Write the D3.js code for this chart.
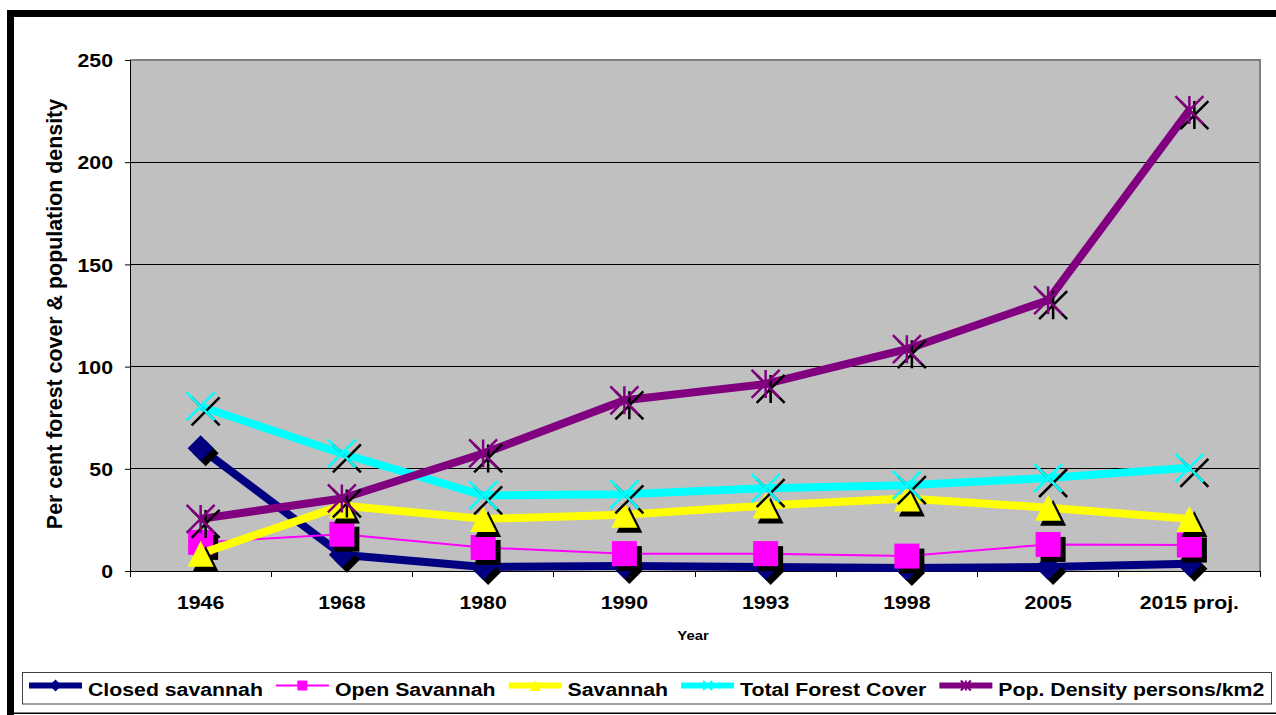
<!DOCTYPE html>
<html><head><meta charset="utf-8">
<script src="https://cdn.jsdelivr.net/npm/d3@7"></script>
<style>
body{margin:0;background:#fff}
svg{display:block}
text{font-family:"Liberation Sans",Arial,Helvetica,sans-serif;font-weight:bold;fill:#000}
</style>
</head><body>
<svg id="c" width="1276" height="715"></svg>
<script>
// ---- data ----
const categories = ["1946","1968","1980","1990","1993","1998","2005","2015 proj."];
const closedSavannah = [60, 8, 2, 2.5, 2, 1.5, 2, 3.5];
const openSavannah   = [14, 18, 11.5, 8.5, 8.5, 7.3, 13, 12.7];
const savannah       = [8.5, 32, 25.5, 27.5, 32, 35.5, 31, 25.5];
const totalForest    = [80.5, 57.5, 37, 37.5, 40.5, 42, 45.5, 50.5];
const popDensity     = [25.5, 35.5, 57.5, 83.5, 91.5, 108.5, 132.5, 225.5];
const seriesNames = ["Closed savannah","Open Savannah","Savannah","Total Forest Cover","Pop. Density persons/km2"];
const yTicks = [0, 50, 100, 150, 200, 250];
const xTitle = "Year";
const yTitle = "Per cent forest cover & population density";

// ---- setup ----
const svg = d3.select("#c");
const P = {left:130, top:60, right:1260, bottom:571};
const x = d3.scaleBand().domain(categories).range([P.left, P.right]);
const y = d3.scaleLinear().domain([0, 250]).range([P.bottom, P.top]);
const cx = i => x(categories[i]) + x.bandwidth()/2;
const SX = 1.12; // horizontal stretch of horizontal labels
const FS = "19px";

const series = [
  {name:seriesNames[0], values:closedSavannah, color:"#000080", width:8, marker:"diamond"},
  {name:seriesNames[1], values:openSavannah,   color:"#FF00FF", width:2, marker:"square"},
  {name:seriesNames[2], values:savannah,       color:"#FFFF00", width:8, marker:"triangle"},
  {name:seriesNames[3], values:totalForest,    color:"#00FFFF", width:8, marker:"x"},
  {name:seriesNames[4], values:popDensity,     color:"#800080", width:8, marker:"asterisk"}
];

function markerPath(type, r){
  switch(type){
    case "diamond": return `M0,${-r}L${r},0L0,${r}L${-r},0Z`;
    case "square": return `M${-r},${-r}H${r}V${r}H${-r}Z`;
    case "triangle": return `M0,${-r}L${r},${r}L${-r},${r}Z`;
    case "x": return `M${-r},${-r}L${r},${r}M${r},${-r}L${-r},${r}`;
    case "asterisk": return `M${-r},${-r}L${r},${r}M${r},${-r}L${-r},${r}M0,${-r}L0,${r}`;
  }
}
const isStroke = t => t==="x" || t==="asterisk";
const markerR = {diamond:13, square:12.5, triangle:13, x:14, asterisk:14};
const legendR = {diamond:6, square:5, triangle:5.5, x:4.5, asterisk:5};

// ---- frame ----
svg.append("rect").attr("x",7).attr("y",10).attr("width",7).attr("height",705).attr("fill","#000");
svg.append("rect").attr("x",7).attr("y",10).attr("width",1269).attr("height",7).attr("fill","#000");
svg.append("rect").attr("x",7).attr("y",712.5).attr("width",1269).attr("height",1.5).attr("fill","#000");

// ---- plot area ----
svg.append("rect").attr("x",P.left).attr("y",P.top).attr("width",P.right-P.left).attr("height",P.bottom-P.top).attr("fill","#C0C0C0");
svg.append("g").selectAll("line").data(yTicks.filter(t=>t>0 && t<250)).join("line")
  .attr("x1",P.left).attr("x2",P.right).attr("y1",d=>y(d)).attr("y2",d=>y(d))
  .attr("stroke","#000").attr("stroke-width",1).attr("shape-rendering","crispEdges");
svg.append("path").attr("d",`M${P.left},${P.top}H${P.right}V${P.bottom}`)
  .attr("fill","none").attr("stroke","#808080").attr("stroke-width",2);

// ---- y axis ----
const gy = svg.append("g").attr("transform",`translate(${P.left},0)`)
  .call(d3.axisLeft(y).tickValues(yTicks).tickSize(5).tickFormat(d3.format("d")));
gy.select(".domain").attr("stroke","#000");
gy.selectAll(".tick line").attr("stroke","#000");
gy.selectAll(".tick text").attr("x",0).attr("dy","0.35em")
  .attr("transform",`translate(-17,0) scale(${SX},1)`)
  .style("font-size",FS);
gy.attr("font-family",null).attr("font-size",null);

// ---- x axis ----
const gx = svg.append("g").attr("transform",`translate(0,${P.bottom})`)
  .call(d3.axisBottom(x).tickSize(0).tickPadding(0));
gx.select(".domain").attr("stroke","#000");
gx.selectAll(".tick text").attr("y",0).attr("dy",0)
  .attr("transform",`translate(0,37.5) scale(${SX},1)`)
  .style("font-size",FS);
gx.attr("font-family",null).attr("font-size",null);
const bounds = categories.map(c=>x(c)).concat([x.range()[1]]);
svg.append("g").selectAll("line").data(bounds).join("line")
  .attr("x1",d=>d).attr("x2",d=>d).attr("y1",P.bottom).attr("y2",P.bottom+6)
  .attr("stroke","#000").attr("stroke-width",1).attr("shape-rendering","crispEdges");

// ---- titles ----
svg.append("text").attr("transform",`translate(${(P.left+P.right)/2 - 2},640) scale(1.1,1)`)
  .attr("text-anchor","middle").style("font-size","13.5px").text(xTitle);
svg.append("text").attr("transform",`translate(62,${(P.top+P.bottom)/2 - 1.5}) rotate(-90)`)
  .attr("text-anchor","middle").style("font-size","21.4px").text(yTitle);

// ---- series ----
const line = d3.line().x((d,i)=>cx(i)).y(d=>y(d));
series.forEach(s=>{
  const g = svg.append("g");
  g.append("path").attr("d",line(s.values)).attr("fill","none")
    .attr("stroke",s.color).attr("stroke-width",s.width).attr("stroke-linejoin","round");
  const r = markerR[s.marker];
  const pts = s.values.map((v,i)=>[cx(i), y(v)]);
  g.selectAll(".sh").data(pts).join("path").attr("class","sh")
    .attr("transform",d=>`translate(${d[0]+5},${d[1]+5})`)
    .attr("d",markerPath(s.marker,r))
    .attr("fill",isStroke(s.marker)?"none":"#000")
    .attr("stroke",isStroke(s.marker)?"#000":"none").attr("stroke-width",2.5);
  g.selectAll(".mk").data(pts).join("path").attr("class","mk")
    .attr("transform",d=>`translate(${d[0]},${d[1]})`)
    .attr("d",markerPath(s.marker,r))
    .attr("fill",isStroke(s.marker)?"none":s.color)
    .attr("stroke",isStroke(s.marker)?s.color:"none").attr("stroke-width",2.5);
});

// ---- legend ----
const lg = svg.append("g");
lg.append("rect").attr("x",22.5).attr("y",672.5).attr("width",1249).attr("height",31.5)
  .attr("fill","#fff").attr("stroke","#404040").attr("stroke-width",1);
let lx = 29;
const ly = 685.5;
series.forEach(s=>{
  lg.append("line").attr("x1",lx).attr("x2",lx+53).attr("y1",ly).attr("y2",ly)
    .attr("stroke",s.color).attr("stroke-width",s.width===2?2:6);
  const r = legendR[s.marker];
  lg.append("path").attr("transform",`translate(${lx+26.5},${ly})`)
    .attr("d",markerPath(s.marker,r))
    .attr("fill",isStroke(s.marker)?"none":s.color)
    .attr("stroke",isStroke(s.marker)?s.color:"none").attr("stroke-width",2);
  const t = lg.append("text").attr("transform",`translate(${lx+59},695.5) scale(${SX},1)`)
    .style("font-size",FS).text(s.name);
  const w = t.node().getComputedTextLength()*SX;
  lx = lx + 59 + w + 13;
});
</script>
</body></html>
